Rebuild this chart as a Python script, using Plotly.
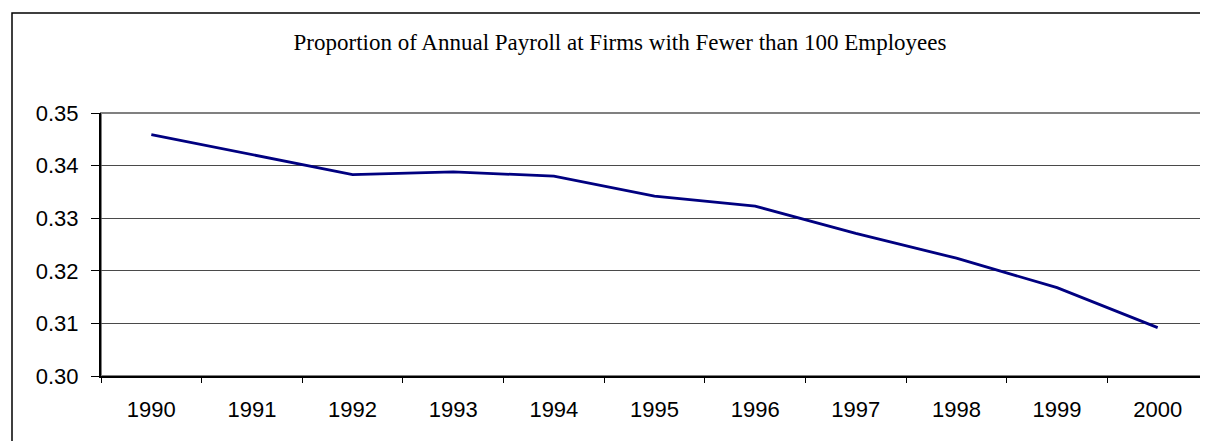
import plotly.graph_objects as go

years = ["1990", "1991", "1992", "1993", "1994", "1995", "1996", "1997", "1998", "1999", "2000"]
proportion = [0.3459, 0.3421, 0.3383, 0.3388, 0.3380, 0.3342, 0.3323, 0.3271, 0.3224, 0.3168, 0.3092]
y_ticks = [0.30, 0.31, 0.32, 0.33, 0.34, 0.35]
title_text = "Proportion of Annual Payroll at Firms with Fewer than 100 Employees"

W, H = 1208, 441
L, R, T, B = 93, 8, 105, 73
pw, ph = W - L - R, H - T - B

fig = go.Figure()
fig.add_trace(go.Scatter(
    x=years, y=proportion, mode="lines",
    line=dict(color="#000080", width=2.8),
    showlegend=False, hoverinfo="skip",
))

# outer chart border (cut off at right and bottom like the reference)
fig.add_shape(type="rect", xref="paper", yref="paper",
              x0=(4 - L) / pw, x1=(1214 - L) / pw,
              y0=-(452 - T - ph) / ph, y1=(T + ph - 5) / ph,
              line=dict(color="black", width=1.5), fillcolor="rgba(0,0,0,0)", layer="below")
# plot area border (gray)
fig.add_shape(type="rect", xref="paper", yref="paper", x0=0, x1=1, y0=0, y1=1,
              line=dict(color="#808080", width=2), fillcolor="rgba(0,0,0,0)", layer="below")

fig.update_layout(
    width=W, height=H,
    margin=dict(l=L, r=R, t=T, b=B, autoexpand=False),
    paper_bgcolor="white", plot_bgcolor="white",
    title=dict(text=title_text, x=612 / W, xanchor="center", xref="container",
               y=1 - 33.6 / H, yanchor="middle", yref="container",
               font=dict(family="Liberation Serif, Times New Roman, serif", size=23, color="black")),
    font=dict(family="Liberation Sans, Arial, sans-serif", size=22, color="black"),
)
fig.update_xaxes(
    type="category", tickson="boundaries", ticks="outside", ticklen=5, tickwidth=1.2,
    tickcolor="black", showline=True, linecolor="black", linewidth=2,
    showgrid=False, zeroline=False, range=[-0.5, 10.5],
    tickfont=dict(size=22), ticklabelstandoff=13,
)
fig.update_yaxes(
    range=[0.30, 0.35], tickvals=y_ticks, tickformat=".2f",
    ticks="outside", ticklen=8, tickwidth=1.2, tickcolor="black",
    showline=True, linecolor="black", linewidth=2,
    showgrid=True, gridcolor="#4a4a4a", gridwidth=1, zeroline=False,
    tickfont=dict(size=22), ticklabelstandoff=8,
)

fig.write_html("out.html")
